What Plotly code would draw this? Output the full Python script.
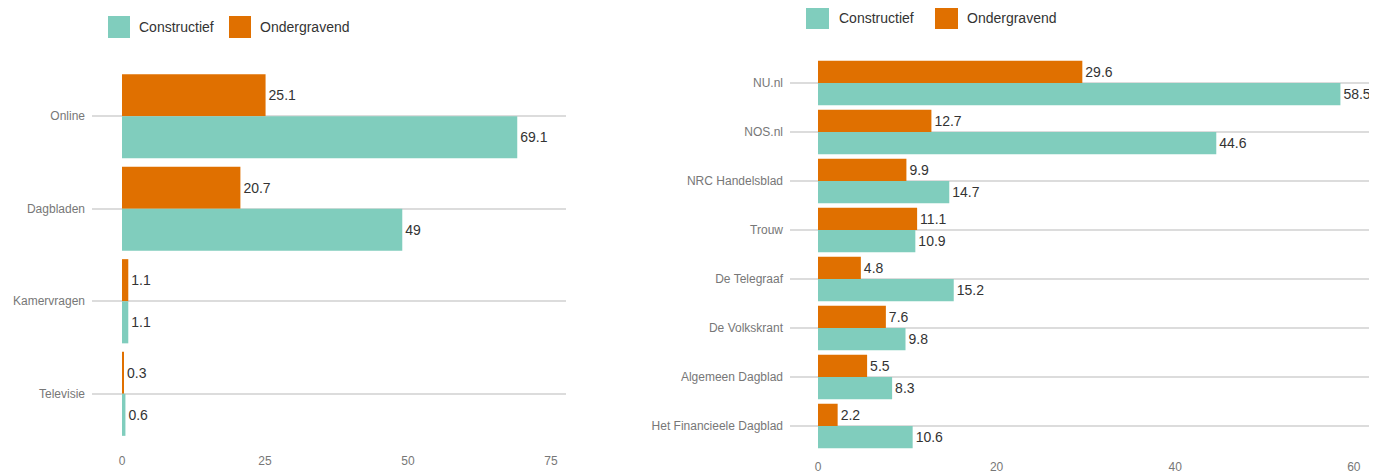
import plotly.graph_objects as go
from plotly.subplots import make_subplots

# Left chart data
left_categories = ["Online", "Dagbladen", "Kamervragen", "Televisie"]
left_constructief = [69.1, 49, 1.1, 0.6]
left_ondergravend = [25.1, 20.7, 1.1, 0.3]
left_ticks = [0, 25, 50, 75]

# Right chart data
right_categories = ["NU.nl", "NOS.nl", "NRC Handelsblad", "Trouw", "De Telegraaf",
                    "De Volkskrant", "Algemeen Dagblad", "Het Financieele Dagblad"]
right_constructief = [58.5, 44.6, 14.7, 10.9, 15.2, 9.8, 8.3, 10.6]
right_ondergravend = [29.6, 12.7, 9.9, 11.1, 4.8, 7.6, 5.5, 2.2]
right_ticks = [0, 20, 40, 60]

series_names = ["Constructief", "Ondergravend"]

TEAL = "#80CDBD"
ORANGE = "#E07000"
W, H = 1377, 471
OFF = 8  # default page body margin
FW, FH = W - OFF, H - OFF
FONT = "Liberation Sans"

fig = make_subplots(rows=1, cols=2)

def add_pair(cats, cons, onder, col):
    fig.add_trace(go.Bar(y=cats, x=onder, orientation="h", name=series_names[1],
                         marker=dict(color=ORANGE, line=dict(width=0)),
                         text=onder, texttemplate="%{x}", textposition="outside",
                         textfont=dict(size=14, color="#333333", family=FONT),
                         cliponaxis=False, showlegend=False), row=1, col=col)
    fig.add_trace(go.Bar(y=cats, x=cons, orientation="h", name=series_names[0],
                         marker=dict(color=TEAL, line=dict(width=0)),
                         text=cons, texttemplate="%{x}", textposition="outside",
                         textfont=dict(size=14, color="#333333", family=FONT),
                         cliponaxis=False, showlegend=False), row=1, col=col)

add_pair(left_categories, left_constructief, left_ondergravend, 1)
add_pair(right_categories, right_constructief, right_ondergravend, 2)

def px_x(p):
    return (p - OFF) / FW

def px_y(p):
    return 1 - (p - OFF) / FH

axis_common = dict(showgrid=False, zeroline=False, showline=False, ticks="",
                   automargin=False,
                   tickfont=dict(size=12, color="#777777", family=FONT))
fig.update_xaxes(**axis_common)
fig.update_xaxes(domain=[px_x(92), px_x(566)], range=[-30 / 5.72, 444 / 5.72],
                 tickvals=left_ticks, ticklabelstandoff=12, row=1, col=1)
fig.update_xaxes(domain=[px_x(790), 1.0], range=[-28 / 8.93, 559 / 8.93],
                 tickvals=right_ticks, ticklabelstandoff=7, row=1, col=2)

yaxis_common = dict(showgrid=True, gridcolor="#DCDCDC", gridwidth=1.5, zeroline=False,
                    showline=False, ticks="", autorange="reversed", automargin=False,
                    tickfont=dict(size=12, color="#777777", family=FONT),
                    ticklabelstandoff=6)
fig.update_yaxes(**yaxis_common)
fig.update_yaxes(domain=[px_y(440), px_y(70)], row=1, col=1)
fig.update_yaxes(domain=[px_y(450.5), px_y(58.5)], row=1, col=2)

# Custom legends
shapes = []
annotations = []
def legend(items, cy):
    for (x0, x1, tx, color, label) in items:
        shapes.append(dict(type="rect", xref="paper", yref="paper",
                           x0=px_x(x0), x1=px_x(x1), y0=px_y(cy + 11), y1=px_y(cy - 11),
                           fillcolor=color, line=dict(width=0)))
        annotations.append(dict(xref="paper", yref="paper", x=px_x(tx), y=px_y(cy),
                                xanchor="left", yanchor="middle", text=label,
                                showarrow=False,
                                font=dict(size=14, color="#333333", family=FONT)))

legend([(108, 130, 137, TEAL, series_names[0]),
        (229, 251, 258, ORANGE, series_names[1])], 27)
legend([(806, 829, 837, TEAL, series_names[0]),
        (935, 958, 965, ORANGE, series_names[1])], 18)

fig.update_layout(width=FW, height=FH, margin=dict(l=0, r=0, t=0, b=0),
                  barmode="group", bargap=0.09, bargroupgap=0,
                  plot_bgcolor="white", paper_bgcolor="white",
                  font=dict(family=FONT), shapes=shapes, annotations=annotations,
                  showlegend=False)

fig.write_html("out.html")
